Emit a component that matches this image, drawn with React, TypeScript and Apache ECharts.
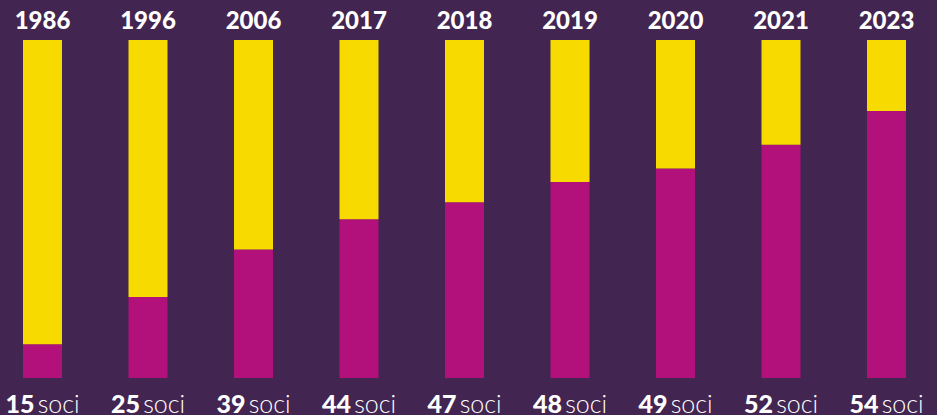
import React, { useEffect, useRef } from "react";
import * as echarts from "echarts";

const years = ["1986", "1996", "2006", "2017", "2018", "2019", "2020", "2021", "2023"];
const members = [15, 25, 39, 44, 47, 48, 49, 52, 54];
const magentaShare = [10, 24, 38, 47, 52, 58, 62, 69, 79];
const yellowShare = [90, 76, 62, 53, 48, 42, 38, 31, 21];

const BG = "#432551";
const YELLOW = "#f7db00";
const MAGENTA = "#b2117c";

export default function App() {
  const ref = useRef<HTMLDivElement>(null);
  useEffect(() => {
    if (!ref.current) return;
    const chart = echarts.init(ref.current, undefined, { renderer: "svg" });
    chart.setOption({
      animation: false,
      backgroundColor: BG,
      grid: { left: 42.5, right: 50.5, top: 40, bottom: 34, containLabel: false },
      xAxis: [
        {
          type: "category",
          data: years,
          position: "top",
          boundaryGap: false,
          axisLine: { show: false },
          axisTick: { show: false },
          splitLine: { show: false },
          axisLabel: {
            margin: 9,
            color: "#ffffff",
            fontFamily: "Lato",
            fontWeight: 900,
            fontSize: 24,
            interval: 0,
          },
        },
        {
          type: "category",
          data: members.map((m) => String(m)),
          position: "bottom",
          boundaryGap: false,
          axisLine: { show: false },
          axisTick: { show: false },
          splitLine: { show: false },
          axisLabel: {
            margin: 12,
            interval: 0,
            formatter: (v: string) => `{n|${v}} {s|soci}`,
            rich: {
              n: { color: "#ffffff", fontFamily: "Lato", fontWeight: 900, fontSize: 25 },
              s: { color: "#ffffff", fontFamily: "Lato", fontWeight: 300, fontSize: 25 },
            },
          },
        },
      ],
      yAxis: {
        type: "value",
        min: 0,
        max: 100,
        show: false,
        splitLine: { show: false },
      },
      series: [
        {
          type: "bar",
          stack: "s",
          data: magentaShare,
          barWidth: 39,
          clip: false,
          itemStyle: { color: MAGENTA },
          xAxisIndex: 0,
        },
        {
          type: "bar",
          stack: "s",
          data: yellowShare,
          barWidth: 39,
          clip: false,
          itemStyle: { color: YELLOW },
          xAxisIndex: 0,
        },
      ],
    });
    return () => chart.dispose();
  }, []);
  return (
    <div
      ref={ref}
      style={{ position: "fixed", left: 0, top: 0, width: 937, height: 415, background: BG }}
    />
  );
}
